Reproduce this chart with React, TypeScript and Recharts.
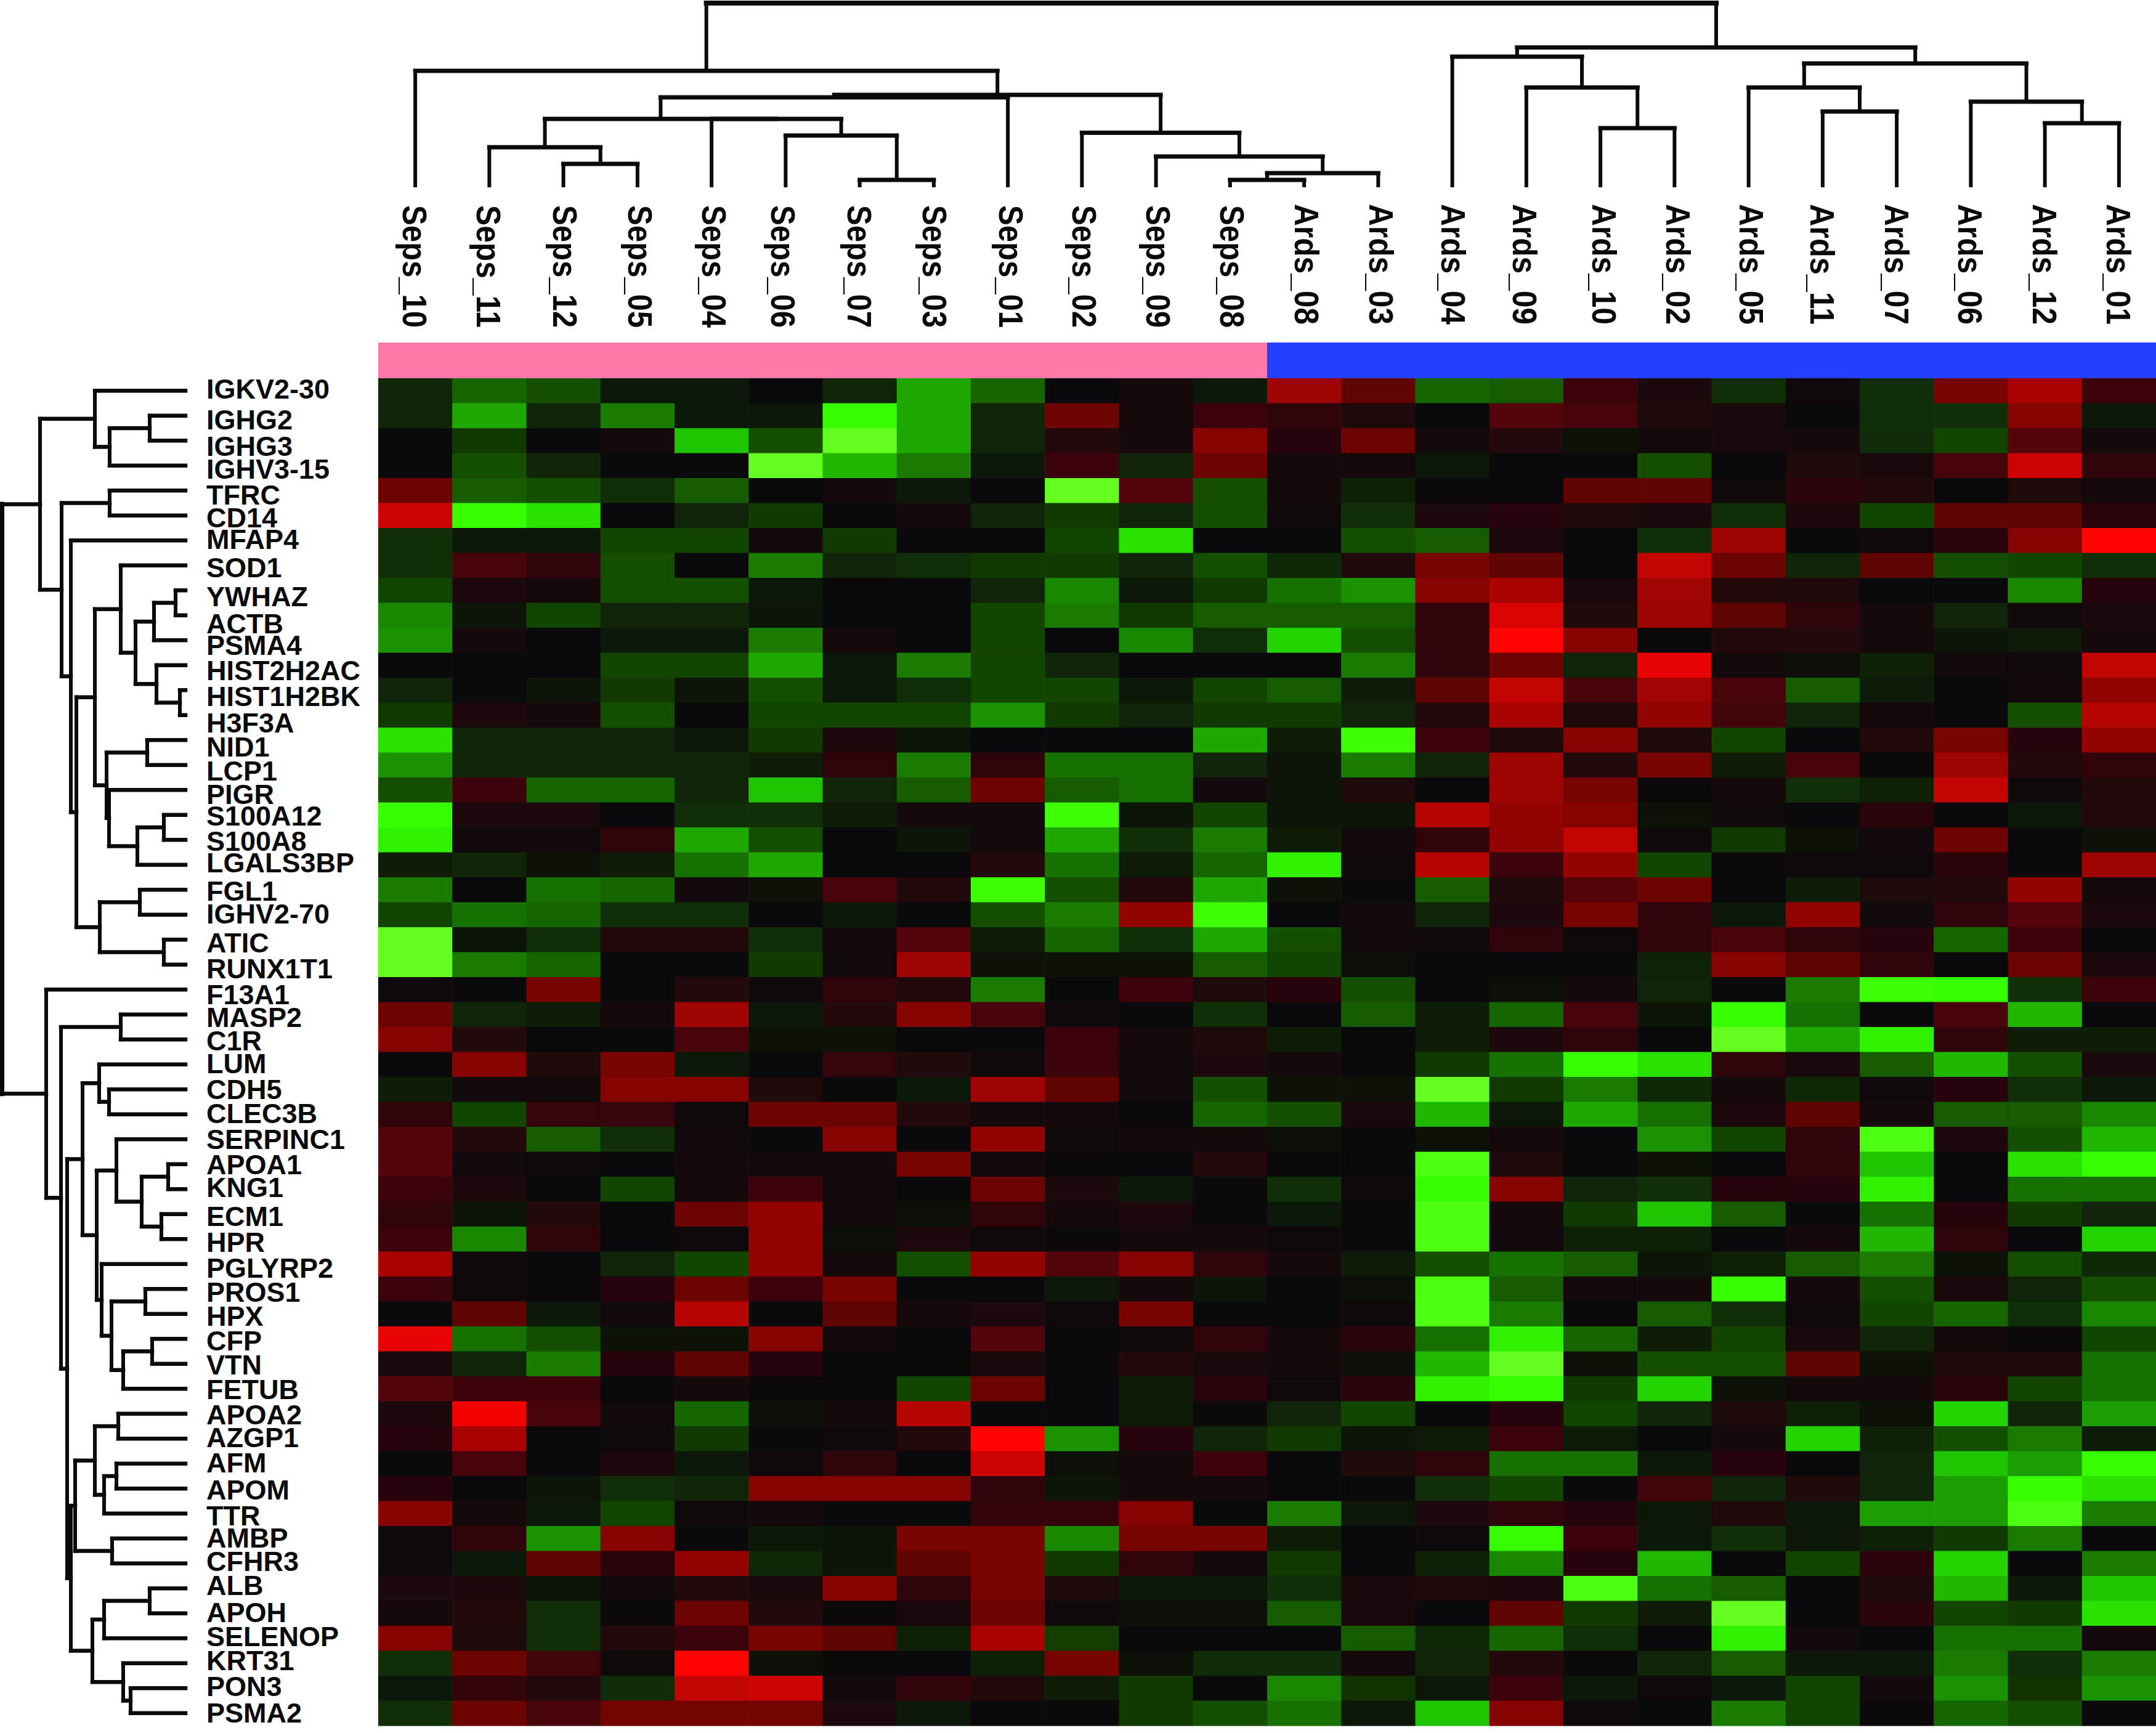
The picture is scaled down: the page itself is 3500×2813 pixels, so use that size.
import React from "react";
import { ScatterChart, Scatter, XAxis, YAxis, ReferenceLine, ReferenceArea } from "recharts";

const genes = ["IGKV2-30","IGHG2","IGHG3","IGHV3-15","TFRC","CD14","MFAP4","SOD1","YWHAZ","ACTB","PSMA4","HIST2H2AC","HIST1H2BK","H3F3A","NID1","LCP1","PIGR","S100A12","S100A8","LGALS3BP","FGL1","IGHV2-70","ATIC","RUNX1T1","F13A1","MASP2","C1R","LUM","CDH5","CLEC3B","SERPINC1","APOA1","KNG1","ECM1","HPR","PGLYRP2","PROS1","HPX","CFP","VTN","FETUB","APOA2","AZGP1","AFM","APOM","TTR","AMBP","CFHR3","ALB","APOH","SELENOP","KRT31","PON3","PSMA2"];
const samples = ["Seps_10","Seps_11","Seps_12","Seps_05","Seps_04","Seps_06","Seps_07","Seps_03","Seps_01","Seps_02","Seps_09","Seps_08","Ards_08","Ards_03","Ards_04","Ards_09","Ards_10","Ards_02","Ards_05","Ards_11","Ards_07","Ards_06","Ards_12","Ards_01"];

// expression by gene (row) and sample (column): positive = red, negative = green
const expression: number[][] = [
[-1,-4,-3,-.5,-.5,0,-1,-7,-4,0,.5,-.5,6,3.5,-4,-3.5,2,.7,-1.5,.2,-1.5,4.5,6.5,2],
[-1,-7,-1,-5,-.5,-.5,-10,-7,-1,4,.5,2,1.5,.8,0,3,2.5,.8,.6,0,-1.5,-1.5,5,-.5],
[0,-2,0,.5,-8,-3,-11,-7,-1,1,.5,5,1.2,4,.4,1,-.2,.3,.6,.5,-1.3,-2.5,3,.5],
[0,-3,-1,0,0,-11,-7.5,-5,-.5,2,-1,4,.4,.4,-.4,0,0,-3,0,.8,.6,2.5,8,1.5],
[4,-3.5,-3,-1.5,-3.5,0,.5,-.5,0,-11,3,-3,.4,-.8,0,0,3.5,3.5,.2,1.4,1,0,.8,.4],
[8,-10,-9,0,-1,-2,0,.5,-1,-2,-1,-3,.2,-1.5,.7,1.2,.8,.6,-1.5,.7,-2.5,3.5,3.5,1.3],
[-1.5,-.5,-.5,-2.5,-2.5,.3,-2,0,0,-2.5,-9,0,0,-3,-3.5,.7,0,-1.5,6,0,.2,1.3,5,10],
[-1.5,2.5,1.5,-3,0,-5,-1,-1.5,-2,-2,-1,-3,-1.2,.8,4.5,3.5,0,7.5,4,-1,3.5,-3,-2.5,-1.5],
[-2.5,.7,.5,-3,-3,-.5,0,0,-1,-5.5,-.5,-2,-4.5,-6,5,6.5,.6,6.2,1,.9,0,0,-5.5,1.2],
[-5.5,-.3,-2.5,-1,-1,-.3,0,0,-2.5,-5,-2,-3.5,-3.5,-3.5,1.5,8.5,.8,6,3.5,1.5,.5,-1,.2,.6],
[-6,.5,0,-.5,-.5,-5,.5,0,-2.5,0,-5.5,-1.5,-8.5,-3,1.5,10,5,0,1,1,.5,-.3,-.6,.5],
[0,0,0,-2.5,-2.5,-7,-.5,-5,-2.5,-1,0,0,0,-5,1.5,4,-1,9,.3,-.1,-.8,.3,.2,7.5],
[-1,0,-.3,-2,-.3,-3,-.5,-1.5,-2.5,-2.5,-.5,-2.5,-3.5,-.7,3.5,7.5,2.5,6.2,2.5,-3.5,-.6,0,.3,5.5],
[-2,.7,.5,-3,0,-2.5,-2.5,-2.5,-6,-2,-1,-2,-2,-1,1,6.5,.8,5.5,2.3,-1,.4,0,-3,7],
[-9,-1,-1,-1,-.5,-2,.7,-.3,0,0,0,-7,-.7,-10.2,2,.8,5,.8,-2.5,0,1,4.5,1.2,5.5],
[-6,-1,-1,-1,-1,-.7,1.5,-5,1.5,-4.5,-4.5,-1,-.3,-5,-1,6,1,4.5,-.7,2.5,.1,6,1,1.5],
[-3,2,-4,-4,-1,-8,-1,-3.5,4,-3.5,-4.5,.3,-.3,.8,0,6,4.5,.1,.4,-1.5,-.8,7.5,.2,1],
[-10,.7,.7,0,-1.5,-1.5,-.7,.5,.3,-10.2,-.3,-2.5,-.3,-.3,7,5.5,5,-.2,.2,0,1.3,0,-.5,1],
[-9.5,.3,.3,1.5,-7,-3,0,-.3,.3,-7,-1.5,-5,-.7,.3,1.5,5.5,7.5,.2,-2,-.2,.3,4,0,-.2],
[-.7,-1,-.2,-.7,-4.5,-7,0,0,1,-4.5,-.7,-4,-9.5,.2,7,2,5.5,-2.5,.1,.2,.2,1.3,0,6],
[-5,0,-4.5,-4,.3,-.2,2.5,1,-10.2,-3,1,-7,-.2,0,-3.5,.8,3,4,0,-.7,.8,1,5.5,.4],
[-2.5,-4.5,-4,-1.5,-1.5,0,-.5,0,-3,-5,5.5,-10.2,0,.3,-1,.7,4.5,1.5,-.5,5.5,.3,1.5,3,.7],
[-11,-.3,-1.5,1,1,-1.5,.4,3,-.7,-4,-1.5,-7,-3,.3,.2,1.5,.2,1.5,2.5,1.5,1.2,-4,2,0],
[-11,-5,-4,0,0,-2,.3,6,-.2,-.2,-.2,-3.5,-2.5,-.1,0,0,.1,-.9,5,3.5,1.5,0,4,.7],
[.2,0,4.5,0,1,.2,1.5,1,-5,0,2,.8,1.2,-3,0,-.1,.5,-1,0,-5,-10.2,-10,-1.5,2],
[4,-1,-.7,.5,6,-.4,1,5,2.5,.2,0,-1.5,0,-3.5,-.7,-4,2.5,-.3,-10,-4.5,0,2.5,-7.5,0],
[5,1,0,0,2.5,-.2,-.2,0,0,2,.5,.8,-.7,.1,-.7,.7,1.5,0,-11,-7,-9.5,1.5,-.7,-.7],
[0,5,.8,4.5,-.5,0,1.8,.8,.2,2,.3,.7,.4,0,-2,-4.5,-10,-9,1.5,.6,-3.5,-7.5,-3,.6],
[-.7,.3,.3,5,5,.8,0,-.5,6,3.5,.3,-3,-.2,-.2,-11,-2,-5,-1.2,.4,-1.2,.2,1.2,-1.5,-.5],
[1.5,-2.5,1.8,1.8,.2,4,4,1,.5,.5,0,-4,-3,.6,-7.5,-.4,-7,-4.5,.7,3.5,.5,-3.5,-3.5,-5.5],
[3,1,-3.5,-1.5,.3,0,5,0,5.5,.2,.5,.5,-.1,0,-.2,.5,0,-6,-2.5,1.5,-10.5,.7,-3,-7.5],
[3,.3,.2,0,.4,.5,.5,4.5,.3,.1,0,1,0,0,-10.5,.8,0,-.2,0,1.5,-8,0,-9,-10],
[2,.7,0,-2.5,.4,2,.3,0,4,.7,-.5,.1,-1.5,.2,-10,5,-1,-1.5,1.2,1.2,-9.5,0,-4.5,-4.5],
[1.5,-.3,1,0,4,5.5,.3,-.1,1.5,.5,.7,0,-.5,0,-10.5,.5,-2,-8,-3.5,0,-4.5,1.2,-2,-1],
[2,-5.5,1.5,0,.2,5.5,-.1,.7,.2,.1,.5,.5,.2,0,-10.5,.3,-.8,-.8,0,.5,-7.5,1.5,0,-8.5],
[6.5,.2,0,-1,-2.5,5.5,.5,-3,5.5,3,5,1.5,.4,-.6,-3,-4.5,-3.5,-.3,-.8,-3.5,-5,-.2,-3,-1.2],
[2,.2,.1,1.2,4,2,4.5,0,0,-.5,.5,-.3,0,-.1,-10.5,-3.5,.5,.5,-10,.4,-3,.6,-1,-3],
[0,3.5,-.5,.3,7,0,3.5,.5,.7,.2,4.5,0,0,.2,-10.5,-5,0,-3.5,-1.5,.2,-2.5,-4,-1.5,-5.5],
[9,-4.5,-3,-.2,-.2,5,.4,0,3,0,.2,1.5,.5,1.3,-4.5,-9.5,-4,-.7,-2.5,.6,-1,.4,.1,-2.5],
[.6,-1,-5,1.2,3.5,1.2,0,.1,.6,.1,1,.6,.4,-.1,-7.5,-11,-.2,-3,-3,3.5,-.2,.9,.8,-4.5],
[3,2,2,0,.5,.1,.1,-2.5,4,0,-.7,1.3,.2,1.3,-9.5,-10,-2,-8.5,-.2,.5,.4,1.3,-2.5,-4.5],
[.7,9.5,2.5,.3,-4,-.1,.5,7,0,0,-.7,.1,-1,-2.5,0,1.2,-2.5,-1,.8,-.8,-.2,-8.5,-1,-6.5],
[1.2,6.5,0,.2,-2,0,.2,1,10,-6,1.2,-1,-2,-.3,-.6,2,-.6,0,.4,-8.5,-.8,-3,-5,-.6],
[0,2.5,0,.7,-.5,.2,1.5,0,8,-.1,.4,2,0,.8,1.5,-4.5,-4.5,-.5,1.2,0,-1,-8,-6.5,-10],
[1.2,0,-.3,-1.5,-1,5,5,5,1.5,-.3,.5,.4,.1,0,-1.5,-2.5,0,2.2,-1,.8,-1,-6.5,-10,-9],
[5,.5,-.5,-2.5,.2,.5,0,0,1.7,1.7,5,0,-5,-.4,.7,1.5,1.2,-.4,.9,-.5,-6.5,-6.5,-10.5,-5],
[.2,1.5,-6,5,0,-.5,-.3,4.5,4.5,-5.5,4.5,4.5,-.7,0,.2,-10,2,-.5,-1.5,-.4,-.8,-2,-5,0],
[.2,-.5,3.5,1.3,5.5,-1.2,-.3,3.5,4.5,-2,1.6,.5,-2,0,-.8,-5.5,1.2,-7.5,0,-2.5,1.4,-8.5,0,-5],
[.7,.7,-.3,.3,1,.6,5,1.5,4.5,.8,-.5,-.5,-1.5,.6,.9,.7,-10.5,-4.5,-3.5,0,.8,-7.5,-.5,-8],
[.5,1,-1.5,.1,4,1,.1,.6,4,.2,-.1,-.1,-3.5,.6,0,3.5,-2,-.7,-11,0,1.3,-2.5,-2,-9],
[5,.8,-1.5,1,2,4.5,3.5,-.8,6.5,-2.2,0,0,0,-3.5,-1.2,-4,-1.5,0,-9.5,.3,0,-4.5,-4.5,.4],
[-1.5,4,2.2,.2,10,-.1,.1,0,-.8,4.5,-.1,-1.3,-1.3,.4,-1,1,0,-1,-3.5,-.5,-.5,-5,-1.5,-5],
[-.4,1.7,1,-1.3,7.5,8,.3,1.6,1,-.7,-2,0,-5.5,-1.7,-.4,2,-.5,.2,-.5,-2.5,.3,-6,-1.7,-6],
[-1.5,4,2.5,4.3,4.3,4.3,.7,-.5,0,0,-2,-3,-4.5,-.4,-8,5,.2,0,-5,-2.5,.1,-4,-3,0],
];

// dendrograms: [merge height, child, child]; a number child is a leaf index
type Tree = number | [number, Tree, Tree];
const sampleTree: Tree = [296,
  [186, 0, [147,
    [143, [108, [62, 1, [35, 2, 3]], [108, 4, [81, 5, [9, 6, 7]]]], 8],
    [85.5, 9, [47, 10, [20, [9, 11, 12], 13]]]]],
  [224,
    [209, 14, [159, 15, [93, 16, 17]]],
    [198, [159, 18, [120, 19, 20]], [136, 21, [101, 22, 23]]]]];
const upperGeneTree: Tree = [236,
  [147, 0, [123, [58, 1, 2], 3]],
  [201, [123, 4, 5], [186, 6, [177,
    [147,
      [105, 7, [81, [51, [16, 8, 9], 10], [47, 11, [9, 12, 13]]]],
      [128, [62, 14, 15], [124, 16, [78, [35, 17, 18], 19]]]],
    [139, [74, 20, 21], [35, 22, 23]]]]]];
const lowerGeneTree: Tree = [226, 24, [202, [105, 25, 26], [192,
  [167,
    [140, 27, [124, 28, 29]],
    [144,
      [112, 30, [71, [28, 31, 32], [39, 33, 34]]],
      [136, 35, [120, [65, 36, 37], [101, [54, 38, 39], 40]]]]],
  [186,
    [179, [147, [109, 41, 42], [132, [112, 43, 44], 45]], [119, 46, 47]],
    [151, [132, [58, 48, 49], 50], [101, 51, [89, 52, 53]]]]]]];
const geneRoot: Tree = [298, upperGeneTree, lowerGeneTree];

// layout
const W = 3500, H = 2813;
const CW = 120.25, CH = 40.5;
const LEFT = 614, TOP = 614;
const AXIS = 1; // axes need a non-empty band to draw their ticks
const xDomain = [(AXIS - LEFT) / CW, (W - LEFT) / CW];
const yDomain = [(AXIS - TOP) / CH, (H - TOP) / CH];
const LEAF = 301;
const topY = (h: number) => (LEAF - h - TOP) / CH;
const leftX = (h: number) => (LEAF - h - LEFT) / CW;
const geneNudge = [-3,6,9,5,7,3,-2,3.5,10,13,8,8,10,12,11,9,7,1,2,-4,2,-2,5,6,8,4,1.5,-2,0,-2,0,0,-3,3,5,6,5,3,3,1,1,1,-2,-2,2,3,-1,-4,-5,-2,-3,-5,-3,-1];
const sampleNudge = [0,0,3,5,5,-3,0,2,6,5,4,4,5,6,2,-2,7,7,5,0,1,0,0,0];

const heatData = expression.flatMap((r, row) => r.map((v, col) => ({ col: col + 0.5, row: row + 0.5, v })));

function cellColor(v: number) {
  if (v >= 0) {
    const r = Math.min(255, Math.round(10 + v * 24.5));
    return `rgb(${r},${v > 1 ? 4 : 9},${v > 3 ? 2 : 11})`;
  }
  const a = -v;
  const g = a <= 7 ? Math.round(14 + a * 22) : Math.min(255, Math.round(168 + (a - 7) * 29));
  const r = a > 10 ? Math.round(54 + (a - 10) * 46) : a >= 8 ? Math.round(30 + (a - 8) * 12) : Math.round(12 + a * 2.5);
  const b = a > 10 ? Math.round((a - 10) * 32) : a > 1.5 ? 0 : 8;
  return `rgb(${r},${g},${b})`;
}

type Seg = { a: [number, number]; b: [number, number]; w: number };
function walk(t: Tree, out: Seg[], place: (pos: number, h: number) => [number, number], wMain: number, wArm: number): { pos: number; h: number } {
  if (typeof t === "number") return { pos: t + 0.5, h: 0 };
  const l = walk(t[1], out, place, wMain, wArm);
  const r = walk(t[2], out, place, wMain, wArm);
  out.push({ a: place(l.pos, t[0]), b: place(r.pos, t[0]), w: wMain });
  out.push({ a: place(l.pos, l.h), b: place(l.pos, t[0]), w: wArm });
  out.push({ a: place(r.pos, r.h), b: place(r.pos, t[0]), w: wArm });
  return { pos: (l.pos + r.pos) / 2, h: t[0] };
}
const topSegs: Seg[] = [];
walk(sampleTree, topSegs, (p, h) => [p, topY(h)], 7, 6);
topSegs[topSegs.length - 3].w = 8;
const leftSegs: Seg[] = [];
walk(geneRoot, leftSegs, (p, h) => [leftX(h), p], 6, 6.5);
leftSegs[leftSegs.length - 3].w = 8;

const Cell = (p: any) => (
  <rect x={p.cx - CW / 2} y={p.cy - CH / 2} width={CW + 0.6} height={CH + 0.6} fill={cellColor(p.payload.v)} />
);

const SampleTick = (p: any) => {
  const i = Math.floor(p.payload.value);
  const name = samples[i];
  const seps = name.startsWith("Seps");
  return (
    <text
      transform={`translate(${p.x + sampleNudge[i] - 20},${seps ? 333 : 331}) rotate(90)`}
      fontFamily="Liberation Sans" fontWeight="bold" fontSize={56} fill="#0a0a0a"
      textLength={seps ? 199 : 196} lengthAdjust="spacingAndGlyphs"
    >{name}</text>
  );
};
const GeneTick = (p: any) => {
  const i = Math.floor(p.payload.value);
  return (
    <text x={335} y={p.y + geneNudge[i] + 16} fontFamily="Liberation Sans" fontWeight="bold" fontSize={45} fill="#0a0a0a">{genes[i]}</text>
  );
};

export default function App() {
  return (
    <div style={{ position: "absolute", left: 0, top: 0, width: W, height: H, background: "#fff", overflow: "hidden" }}>
      <ScatterChart width={W} height={H} margin={{ top: 0, right: 0, bottom: 0, left: 0 }}>
        <XAxis type="number" dataKey="col" orientation="top" height={AXIS} domain={xDomain} allowDataOverflow
          ticks={samples.map((_, i) => i + 0.5)} interval={0} axisLine={false} tickLine={false} tick={SampleTick} />
        <YAxis type="number" dataKey="row" width={AXIS} reversed domain={yDomain} allowDataOverflow
          ticks={genes.map((_, i) => i + 0.5)} interval={0} axisLine={false} tickLine={false} tick={GeneTick} />
        <ReferenceArea x1={0} x2={12} y1={-1.43} y2={0} fill="#ff78aa" fillOpacity={1} stroke="none" ifOverflow="visible" />
        <ReferenceArea x1={12} x2={xDomain[1]} y1={-1.43} y2={0} fill="#2440ff" fillOpacity={1} stroke="none" ifOverflow="visible" />
        <Scatter data={heatData} isAnimationActive={false} shape={Cell} />
        {topSegs.concat(leftSegs).map((s, i) => (
          <ReferenceLine key={i} segment={[{ x: s.a[0], y: s.a[1] }, { x: s.b[0], y: s.b[1] }]}
            stroke="#0a0a0a" strokeWidth={s.w} strokeLinecap="square" ifOverflow="visible" />
        ))}
      </ScatterChart>
    </div>
  );
}
